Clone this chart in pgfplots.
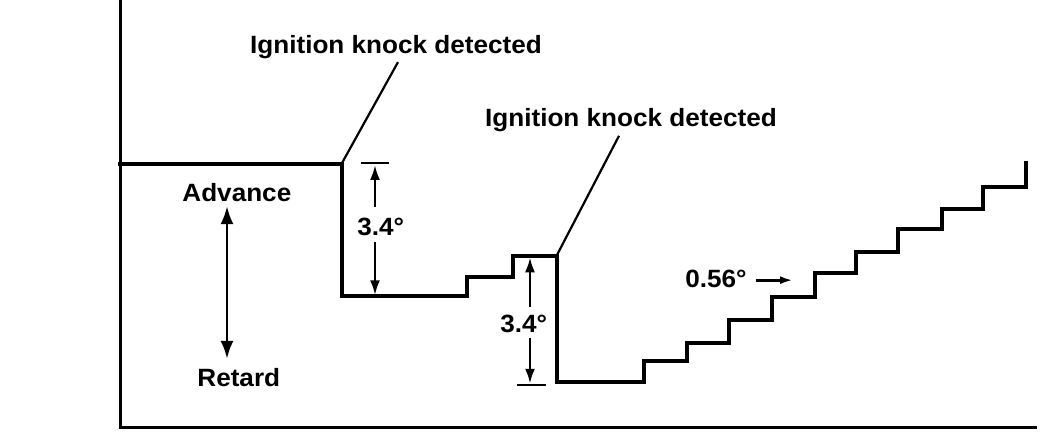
\documentclass[border=0pt]{standalone}
\usepackage{pgfplots}
\pgfplotsset{compat=1.18}
\usepackage{fontspec}
\setmainfont{Liberation Sans}
\usetikzlibrary{arrows.meta}
\newcommand{\lbl}[1]{\scalebox{1.045}[1]{\bfseries\fontsize{12.5pt}{14pt}\selectfont #1}}
\begin{document}
\begin{tikzpicture}[x=0.5pt,y=0.5pt]
\path[use as bounding box] (0,0) rectangle (1056,432);
\begin{axis}[
  at={(120*0.5pt,4*0.5pt)}, anchor=south west,
  scale only axis, width=457.5pt, height=214pt,
  xmin=120, xmax=1035, ymin=0, ymax=11.031,
  axis x line*=bottom, axis y line*=left,
  axis line style={line width=1.5pt, line cap=rect},
  xtick=\empty, ytick=\empty, clip=false,
]
\addplot[const plot, line width=2.2pt, black, line join=miter, line cap=rect] coordinates {
 (120,6.80) (342,3.40) (467,3.89) (513,4.43) (557,1.19) (644,1.73) (687,2.19)
 (729,2.78) (772,3.38) (815,3.99) (856,4.54) (898,5.13) (942,5.64) (983,6.21) (1026,6.83)
};
% leader lines and labels
\draw[line width=1.1pt] (axis cs:342,6.83) -- (axis cs:398,9.43);
\draw[line width=1.1pt] (axis cs:557,4.46) -- (axis cs:619,7.53);
\node[anchor=base, inner sep=0pt] at (axis cs:396,9.66) {\lbl{Ignition knock detected}};
\node[anchor=base, inner sep=0pt] at (axis cs:631,7.76) {\lbl{Ignition knock detected}};
% first dimension 3.4
\draw[line width=1.1pt] (axis cs:361,6.83) -- (axis cs:389,6.83);
\draw[line width=1.3pt, -{Latex[length=7.5pt,width=5pt]}] (axis cs:375,5.70) -- (axis cs:375,6.78);
\draw[line width=1.3pt, -{Latex[length=7.5pt,width=5pt]}] (axis cs:375,4.79) -- (axis cs:375,3.42);
\node[anchor=base west, inner sep=0pt] at (axis cs:357,4.97) {\lbl{3.4°}};
% second dimension 3.4
\draw[line width=1.1pt] (axis cs:517,1.11) -- (axis cs:546,1.11);
\draw[line width=1.3pt, -{Latex[length=7.5pt,width=5pt]}] (axis cs:530,3.12) -- (axis cs:530,4.40);
\draw[line width=1.3pt, -{Latex[length=7.5pt,width=5pt]}] (axis cs:530,2.32) -- (axis cs:530,1.14);
\node[anchor=base west, inner sep=0pt] at (axis cs:500,2.45) {\lbl{3.4°}};
% advance / retard
\node[anchor=base west, inner sep=0pt] at (axis cs:182,5.85) {\lbl{Advance}};
\node[anchor=base west, inner sep=0pt] at (axis cs:197,1.06) {\lbl{Retard}};
\draw[line width=1.4pt, {Latex[length=9pt,width=6.5pt]}-{Latex[length=9pt,width=6.5pt]}] (axis cs:227,5.72) -- (axis cs:227,1.78);
% 0.56
\node[anchor=base west, inner sep=0pt] at (axis cs:685,3.63) {\lbl{0.56°}};
\draw[line width=1.4pt, -{Latex[length=6.5pt,width=4pt]}] (axis cs:756,3.81) -- (axis cs:793,3.81);
\end{axis}
\end{tikzpicture}
\end{document}
